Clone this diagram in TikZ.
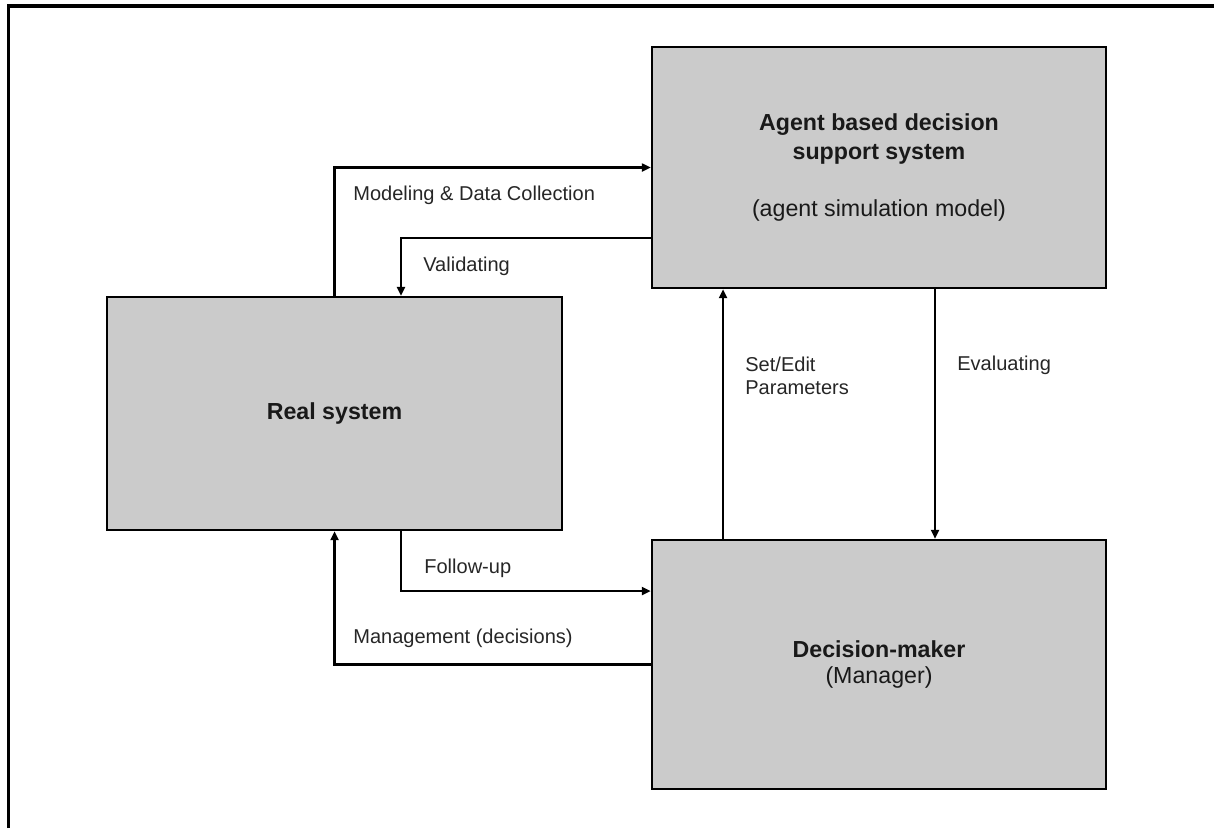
\documentclass[tikz,border=0pt]{standalone}
\usepackage{fontspec}
\setmainfont{Liberation Sans}
\usetikzlibrary{positioning, arrows.meta, calc}
\definecolor{boxgray}{HTML}{CBCBCB}
\tikzset{
  sysbox/.style  = {rectangle, draw=black, line width=1.4pt, fill=boxgray,
                    align=center, inner sep=0pt, text=black!90,
                    font=\fontsize{13.2}{16.3}\selectfont},
  flow/.style    = {line width=1.3pt, -{Triangle[length=1.8mm, width=1.6mm]}, draw=black},
  lbl/.style     = {anchor=west, inner sep=0pt, align=left, text=black!85,
                    font=\fontsize{11.4}{13.1}\selectfont},
  frame/.style   = {line width=2.2pt, draw=black},
}

\begin{document}
\begin{tikzpicture}
\useasboundingbox (0,0) rectangle (24.28,-16.56);

% outer frame
\draw[frame] (0.17,-16.56) |- (24.28,-0.12);

% =============== SYSTEMS ===============
\node (abs) [sysbox, minimum width=9.08cm, minimum height=4.82cm] at (17.58,-3.35) {%
  \textbf{Agent based decision}\\\textbf{support system}\\[16.3pt]
  (agent simulation model)};
\node (real) [sysbox, minimum width=9.1cm, minimum height=4.66cm] at (6.69,-8.27) {%
  \textbf{Real system}};
\node (dm) [sysbox, minimum width=9.08cm, minimum height=4.98cm] at (17.58,-13.29) {%
  \textbf{Decision-maker}\\[-1pt](Manager)};

% turning points of the connectors
\coordinate (valid) at (8.02,-4.76);
\coordinate (follow) at (8.02,-11.82);
\coordinate (setx) at (14.46,0);
\coordinate (evalx) at (18.70,0);

% =============== CONNECTORS ===============
\draw[flow] (real.north) |- (abs.west);
\draw[flow] (abs.west |- valid) -| (valid |- real.north);
\draw[flow] (dm.north -| setx) -- (abs.south -| setx);
\draw[flow] (abs.south -| evalx) -- (dm.north -| evalx);
\draw[flow] (follow |- real.south) |- (dm.west |- follow);
\draw[flow] (dm.west) -| (real.south);

% =============== LABELS ===============
\node (lmod)  [lbl] at (7.06,-3.90)  {Modeling \& Data Collection};
\node (lval)  [lbl] at (8.46,-5.32)  {Validating};
\node (lset)  [lbl] at (14.90,-7.51) {Set/Edit\\Parameters};
\node (leval) [lbl] at (19.14,-7.30) {Evaluating};
\node (lfol)  [lbl] at (8.48,-11.36) {Follow-up};
\node (lman)  [lbl] at (7.06,-12.76) {Management (decisions)};

\end{tikzpicture}
\end{document}
